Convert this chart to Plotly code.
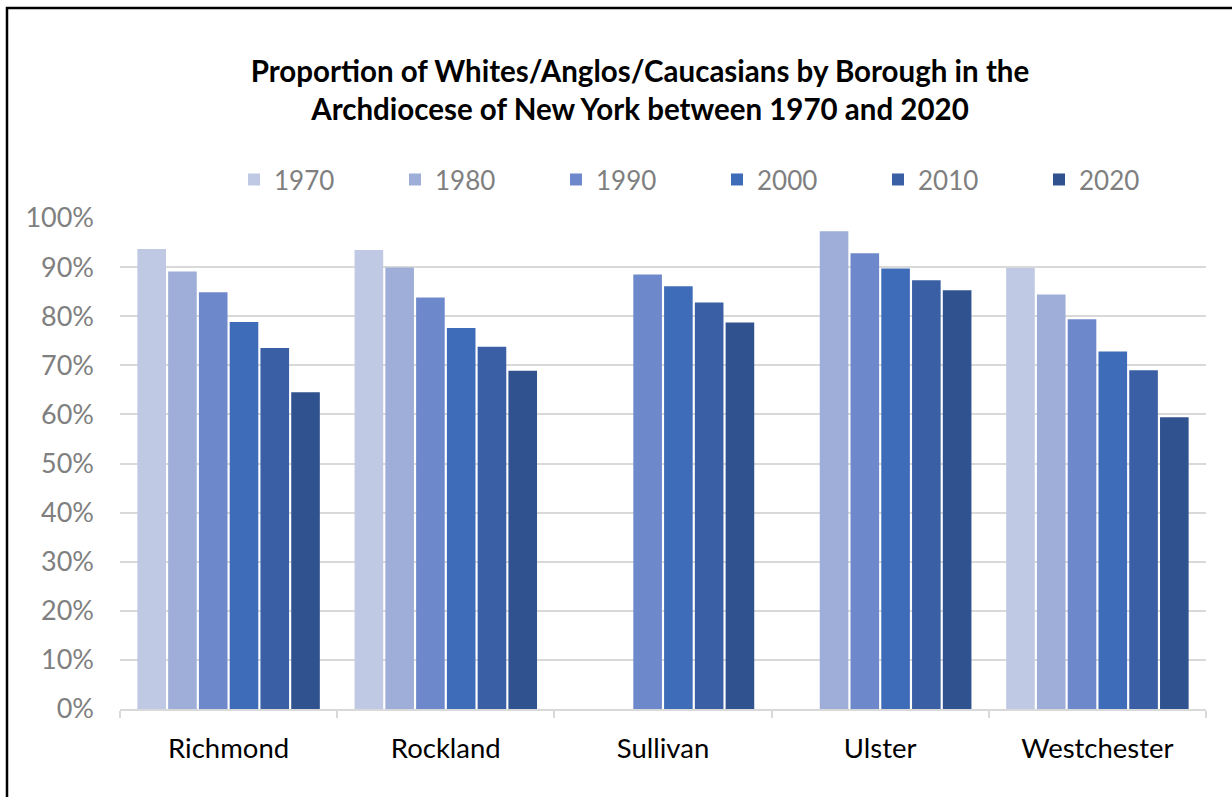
import plotly.graph_objects as go

categories = ["Richmond", "Rockland", "Sullivan", "Ulster", "Westchester"]
years = ["1970", "1980", "1990", "2000", "2010", "2020"]
v1970 = [0.937, 0.935, None, None, 0.898]
v1980 = [0.891, 0.899, None, 0.973, 0.844]
v1990 = [0.849, 0.838, 0.885, 0.928, 0.794]
v2000 = [0.788, 0.776, 0.861, 0.897, 0.728]
v2010 = [0.735, 0.738, 0.828, 0.873, 0.690]
v2020 = [0.645, 0.689, 0.787, 0.853, 0.594]
series = [v1970, v1980, v1990, v2000, v2010, v2020]
colors = ["#BFC9E3", "#9EAED8", "#6E89CB", "#3F6CB8", "#3A5FA5", "#30528E"]
title_text = ("Proportion of Whites/Anglos/Caucasians by Borough in the<br>"
              "Archdiocese of New York between 1970 and 2020")

W, H = 1232, 797
L, R, T, B = 120, 26, 217.5, 87.5
pw, ph = W - L - R, H - T - B

def px_x(x):
    return (x - L) / pw

def px_y(y):
    return (H - B - y) / ph

FONT = "Lato"
fig = go.Figure()
for yr, vals, c in zip(years, series, colors):
    fig.add_trace(go.Bar(x=categories, y=vals, name=yr,
                         marker=dict(color=c, line=dict(width=0))))

fig.update_layout(
    width=W, height=H,
    margin=dict(l=L, r=R, t=T, b=B),
    paper_bgcolor="white", plot_bgcolor="white",
    barmode="group", bargap=0.15, bargroupgap=0.07,
    font=dict(family=FONT),
    title=dict(text=title_text, x=640 / W, xanchor="center", xref="container",
               y=1 - 81.5 / H, yanchor="middle", yref="container",
               font=dict(family=FONT, size=29.5, color="black", weight="bold")),
    legend=dict(orientation="h", x=px_x(234), xanchor="left",
                y=px_y(179), yanchor="middle",
                entrywidth=116, entrywidthmode="pixels",
                font=dict(family=FONT, size=26, color="#7f7f7f"),
                traceorder="normal"),
    showlegend=True,
    xaxis=dict(showline=True, linecolor="#d9d9d9", linewidth=1.5,
               ticks="outside", tickson="boundaries", ticklen=7,
               tickcolor="#d9d9d9", tickwidth=1.5,
               tickfont=dict(family=FONT, size=27.5, color="black"),
               ticklabelstandoff=14, showgrid=False),
    yaxis=dict(range=[0, 1.0], tickformat=".0%", dtick=0.1,
               showgrid=True, gridcolor="#d9d9d9", gridwidth=1.5,
               zeroline=False, showline=False,
               tickfont=dict(family=FONT, size=27, color="#7f7f7f"),
               ticklabelstandoff=25),
    shapes=[dict(type="rect", xref="paper", yref="paper",
                 x0=px_x(7), x1=px_x(1245), y0=px_y(810), y1=px_y(7),
                 line=dict(color="black", width=2.5), layer="above")],
)

fig.write_html("out.html", config={"displayModeBar": False},
               post_script="document.body.style.margin='0';")
